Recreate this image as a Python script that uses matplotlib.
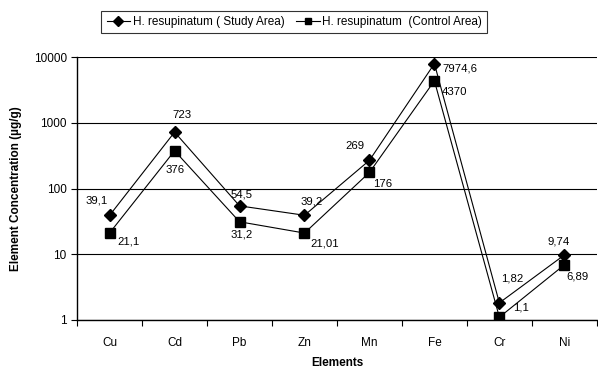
import numpy as np
import matplotlib.pyplot as plt
from matplotlib.ticker import FixedLocator, NullLocator

plt.rcParams['font.family'] = ['Liberation Sans', 'DejaVu Sans']

elements = ['Cu', 'Cd', 'Pb', 'Zn', 'Mn', 'Fe', 'Cr', 'Ni']
study = [39.1, 723, 54.5, 39.2, 269, 7974.6, 1.82, 9.74]
control = [21.1, 376, 31.2, 21.01, 176, 4370, 1.1, 6.89]
study_lbl = ['39,1', '723', '54,5', '39,2', '269', '7974,6', '1,82', '9,74']
control_lbl = ['21,1', '376', '31,2', '21,01', '176', '4370', '1,1', '6,89']

# label offsets in pixels (x, y up)
study_off = [(-13, 15), (7, 17), (2, 11), (7, 14), (-15, 14), (26, -5), (13, 24), (-6, 13)]
control_off = [(19, -9), (0, -19), (2, -13), (20, -10), (13, -12), (20, -11), (22, 10), (13, -12)]

fig = plt.figure(figsize=(5.98, 3.69), dpi=100)
ax = fig.add_axes([0.129, 0.133, 0.869, 0.712])

x = np.arange(len(elements))
l1, = ax.plot(x, study, color='black', lw=0.8, marker='D', ms=6.5,
              label='H. resupinatum ( Study Area)')
l2, = ax.plot(x, control, color='black', lw=0.8, marker='s', ms=6.8,
              label='H. resupinatum  (Control Area)')

for i in range(len(x)):
    ax.annotate(study_lbl[i], (x[i], study[i]), xytext=study_off[i],
                textcoords='offset pixels', ha='center', va='center', fontsize=8.2)
    ax.annotate(control_lbl[i], (x[i], control[i]), xytext=control_off[i],
                textcoords='offset pixels', ha='center', va='center', fontsize=8.2)

ax.set_yscale('log')
ax.set_ylim(1, 10000)
ax.yaxis.set_major_locator(FixedLocator([1, 10, 100, 1000, 10000]))
ax.yaxis.set_minor_locator(NullLocator())
ax.set_yticklabels(['1', '10', '100', '1000', '10000'])
ax.grid(axis='y', color='black', lw=0.8)

ax.set_xlim(-0.5, len(elements) - 0.5)
ax.xaxis.set_major_locator(FixedLocator(np.arange(-0.5, len(elements), 1.0)))
ax.xaxis.set_minor_locator(FixedLocator(x))
ax.set_xticklabels([])
ax.set_xticklabels(elements, minor=True)
ax.tick_params(axis='x', which='minor', length=0, pad=12, labelsize=8.5)
ax.tick_params(axis='x', which='major', length=4, width=0.8)
ax.tick_params(axis='y', length=4, width=0.8, labelsize=8.5)

for s in ['top', 'right']:
    ax.spines[s].set_visible(False)
ax.spines['left'].set_linewidth(1)
ax.spines['bottom'].set_linewidth(1)

ax.set_xlabel('Elements', fontsize=8.5, fontweight='bold', labelpad=6)
ax.set_ylabel('Element Concentration (µg/g)', fontsize=8.5, fontweight='bold', labelpad=8)

leg = fig.legend(handles=[l1, l2], loc='center', bbox_to_anchor=(0.492, 0.94),
                 ncol=2, fontsize=8.5, frameon=True, fancybox=False,
                 edgecolor='black', handlelength=2.0, columnspacing=1.0,
                 borderpad=0.45, handletextpad=0.2)
leg.get_frame().set_linewidth(0.8)
for h in leg.legend_handles:
    h.set_markersize(5)

fig.savefig('out.png', dpi=100)
